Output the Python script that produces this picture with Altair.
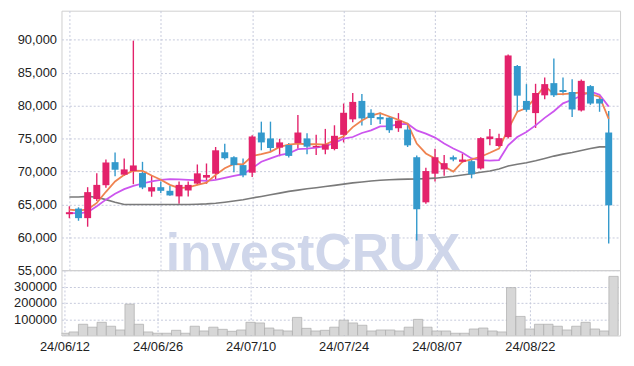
import altair as alt
import pandas as pd

dates = ["24/06/12", "24/06/13", "24/06/14", "24/06/17", "24/06/18", "24/06/19", "24/06/20", "24/06/21",
         "24/06/24", "24/06/25", "24/06/26", "24/06/27", "24/06/28", "24/07/01", "24/07/02", "24/07/03",
         "24/07/04", "24/07/05", "24/07/08", "24/07/09", "24/07/10", "24/07/11", "24/07/12", "24/07/15",
         "24/07/16", "24/07/17", "24/07/18", "24/07/19", "24/07/22", "24/07/23", "24/07/24", "24/07/25",
         "24/07/26", "24/07/29", "24/07/30", "24/07/31", "24/08/01", "24/08/02", "24/08/05", "24/08/06",
         "24/08/07", "24/08/08", "24/08/09", "24/08/12", "24/08/13", "24/08/14", "24/08/16", "24/08/19",
         "24/08/20", "24/08/21", "24/08/22", "24/08/23", "24/08/26", "24/08/27", "24/08/28", "24/08/29",
         "24/08/30", "24/09/02", "24/09/03", "24/09/04"]

opens = [63500, 64350, 62900, 65800, 67900, 71400, 69500, 70050, 69750, 66950,
         67600, 67050, 66200, 67100, 68150, 69050, 69650, 72900, 72150, 70950,
         69800, 75900, 75000, 73600, 74000, 74300, 75000, 73650, 73300, 73400,
         75550, 77900, 80700, 78900, 78250, 78150, 76550, 76350, 72150, 65300,
         69650, 70300, 72150, 71450, 71550, 70450, 74900, 73850, 75200, 86000,
         80700, 78850, 81550, 83400, 82350, 82050, 79250, 82950, 81000, 75900]
closes = [63800, 62900, 66850, 67950, 71350, 70250, 70300, 70900, 67550, 67600,
          67050, 66350, 67950, 67950, 69700, 69450, 73200, 72000, 70950, 69400,
          75300, 74400, 73550, 74400, 72350, 75900, 73750, 73850, 74100, 75400,
          78900, 80550, 78050, 78100, 77900, 76250, 77700, 73950, 64250, 70050,
          72150, 71250, 71800, 71800, 69550, 75050, 75300, 75050, 87600, 81500,
          79350, 81900, 83250, 81550, 82050, 79400, 83750, 80300, 80300, 64850]
highs = [64700, 64550, 67600, 69700, 71800, 72850, 71950, 89850, 71450, 69350,
         68450, 67800, 68450, 68450, 71050, 71200, 73700, 74200, 72300, 71950,
         75500, 77550, 77550, 74950, 74300, 78550, 75800, 75550, 76450, 77000,
         80300, 81900, 81750, 79450, 78950, 78400, 78850, 77200, 72400, 70550,
         73450, 72500, 72400, 72700, 71800, 75200, 76450, 75700, 87750, 86150,
         83250, 83300, 84250, 87150, 84250, 84000, 83950, 83100, 81300, 79150]
lows = [62900, 62500, 61600, 65500, 67500, 69250, 69300, 68050, 67300, 66150,
        66700, 66300, 65100, 66200, 67900, 68100, 68800, 71800, 69850, 69100,
        69150, 73200, 72950, 72300, 72100, 73450, 72600, 72500, 72600, 73200,
        74400, 77450, 76950, 77050, 77200, 75850, 76000, 73700, 59500, 65100,
        68450, 69350, 71550, 71300, 68950, 70300, 73950, 73700, 75000, 78950,
        79050, 76600, 80950, 81300, 81550, 78250, 79100, 80100, 79050, 59050]
volumes = [14000, 22000, 69000, 51000, 81000, 57000, 34000, 192000, 69000, 22000,
           14000, 14000, 32000, 14000, 57000, 28000, 51000, 38000, 26000, 34000,
           81000, 77000, 46000, 34000, 28000, 111000, 44000, 28000, 32000, 51000,
           94000, 77000, 63000, 28000, 34000, 34000, 28000, 51000, 99000, 51000,
           28000, 28000, 14000, 14000, 40000, 46000, 28000, 22000, 293000, 117000,
           40000, 69000, 69000, 57000, 34000, 57000, 81000, 40000, 28000, 362000]
ma5 = [64210, 64060, 64210, 65210, 66900, 68470, 69470, 70120, 70070, 69370,
       68720, 67960, 67460, 67560, 67960, 68300, 69470, 70470, 71120, 71070,
       72320, 72620, 72970, 73720, 74070, 74220, 74120, 74120, 74070, 74720,
       75330, 76730, 77730, 78480, 78830, 78330, 77830, 77230, 74220, 72720,
       71970, 70720, 69970, 71470, 71820, 72220, 72820, 73470, 76400, 79080,
       79630, 81230, 82980, 81730, 81730, 81830, 81980, 81730, 81330, 77980]
ma10 = [63710, 63610, 63810, 64710, 65710, 66610, 67310, 67810, 68160, 68470,
        68720, 68820, 68770, 68720, 68620, 68570, 68720, 69020, 69320, 69570,
        70470, 71470, 71970, 72470, 72720, 73370, 73470, 73620, 73820, 74320,
        74970, 75220, 75830, 76230, 76830, 76880, 77130, 77230, 76230, 75730,
        75130, 74220, 73470, 72820, 71970, 71720, 71620, 71720, 73970, 75220,
        75980, 76980, 78130, 79130, 80330, 80880, 81480, 82130, 81630, 79830]
ma60 = [66110, 66110, 66210, 66060, 65710, 65310, 64960, 64960, 64960, 64960,
        64960, 64960, 64960, 64980, 65020, 65060, 65150, 65310, 65500, 65700,
        65960, 66200, 66450, 66700, 66960, 67150, 67350, 67510, 67700, 67880,
        68060, 68250, 68400, 68550, 68650, 68720, 68780, 68820, 68850, 68900,
        68970, 69100, 69250, 69450, 69650, 69870, 70070, 70370, 70820, 71070,
        71320, 71620, 71970, 72320, 72620, 72870, 73170, 73470, 73720, 73720]

price_ticks = [55000, 60000, 65000, 70000, 75000, 80000, 85000, 90000]
volume_ticks = [100000, 200000, 300000]
date_tick_idx = [0, 10, 20, 30, 40, 50]

RED = "#e3226b"
BLUE = "#3399cc"
GRID = "#c5c9dc"

df = pd.DataFrame({
    "idx": list(range(len(dates))),
    "date": dates,
    "open": opens, "close": closes, "high": highs, "low": lows,
    "vol": volumes, "ma5": ma5, "ma10": ma10, "ma60": ma60,
})
df["dir"] = ["up" if c >= o else "down" for o, c in zip(opens, closes)]

label_expr = "[" + ",".join("'" + d + "'" for d in dates) + "][datum.value]"
xscale = alt.Scale(domain=[-0.32, 59.7], nice=False, zero=False)
pscale = alt.Scale(domain=[55000, 94400], nice=False, zero=False)
cscale = alt.Scale(domain=["up", "down"], range=[RED, BLUE])

x_axis_price = alt.Axis(values=date_tick_idx, labels=False, ticks=False, domain=False,
                        grid=True, gridDash=[2, 2], gridColor=GRID, title=None,
                        minExtent=0, maxExtent=0, labelPadding=0)
y_axis_price = alt.Axis(values=price_ticks, format=",d", ticks=False, tickSize=0, domain=False,
                        grid=True, gridDash=[2, 2], gridColor=GRID, title=None, labelPadding=5,
                        labelOverlap=False)


def px(field="idx"):
    return alt.X(field + ":Q", scale=xscale, axis=x_axis_price)


def py(field):
    return alt.Y(field + ":Q", scale=pscale, axis=y_axis_price)


base = alt.Chart(df)

watermark = alt.Chart(pd.DataFrame({"t": ["investCRUX"]})).mark_text(
    font="Liberation Sans", fontWeight="bold", fontSize=52, color="#cfd6ea",
    align="center", baseline="alphabetic"
).encode(text="t:N", x=alt.value(254), y=alt.value(262))

wick = base.mark_rule(strokeWidth=1.4).encode(
    x=px(), y=py("low"), y2="high:Q",
    color=alt.Color("dir:N", scale=cscale, legend=None))
body = base.mark_bar(size=7).encode(
    x=px(), y=py("open"), y2="close:Q",
    color=alt.Color("dir:N", scale=cscale, legend=None))
l60 = base.mark_line(color="#7a7a7a", strokeWidth=1.6).encode(x=px(), y=py("ma60"))
l10 = base.mark_line(color="#cc55ee", strokeWidth=1.8).encode(x=px(), y=py("ma10"))
l5 = base.mark_line(color="#ef8350", strokeWidth=1.8).encode(x=px(), y=py("ma5"))

price = alt.layer(watermark, wick, l60, l10, l5, body).properties(width=564, height=262)

volume = base.transform_calculate(x0="datum.idx - 0.5", x1="datum.idx + 0.5").mark_bar(
    fill="#d7d7d7", stroke="#ababab", strokeWidth=0.7, clip=True
).encode(
    x=alt.X("x0:Q", scale=xscale,
            axis=alt.Axis(values=date_tick_idx, labelExpr=label_expr, ticks=False, tickSize=0,
                          domain=False, grid=True, gridDash=[2, 2], gridColor=GRID, title=None,
                          labelPadding=5, labelOverlap=False)),
    x2="x1:Q",
    y=alt.Y("vol:Q", scale=alt.Scale(domain=[0, 400000], nice=False),
            axis=alt.Axis(values=volume_ticks, format="d", ticks=False, tickSize=0, domain=False,
                          grid=True, gridDash=[2, 2], gridColor=GRID, title=None, labelPadding=5,
                          labelOverlap=False)),
    y2=alt.datum(0),
).properties(width=564, height=66)

chart = alt.vconcat(price, volume, spacing=0, bounds="flush").properties(
    padding={"left": 5, "top": 0, "right": 5, "bottom": 5}
).configure_view(stroke="#cfcfcf").configure_axis(
    labelFont="Liberation Sans", labelFontSize=13, labelColor="#222222"
)

chart.save("out.html", embed_options={"renderer": "svg", "actions": False})
